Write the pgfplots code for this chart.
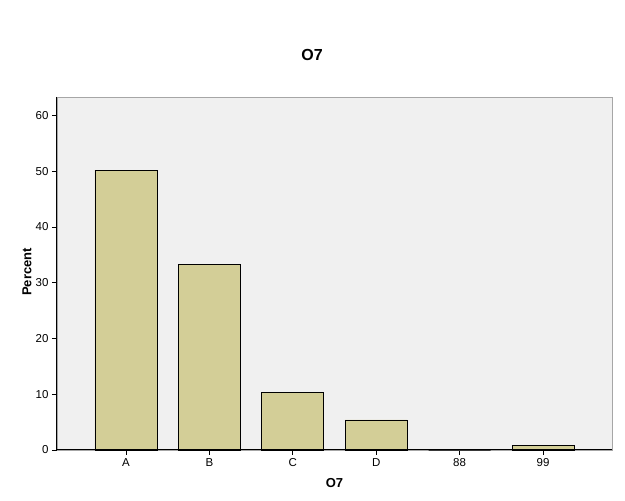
\documentclass[border=0pt]{standalone}
\usepackage{pgfplots}
\pgfplotsset{compat=1.18}
\usepackage{fontspec}
\setmainfont{Liberation Sans}
\definecolor{barfill}{HTML}{D3CE97}
\definecolor{plotbg}{HTML}{F0F0F0}
\begin{document}
\begin{tikzpicture}[x=1pt,y=1pt]
\useasboundingbox (0,0) rectangle (625,501);
\node[font=\fontsize{16}{18}\selectfont\bfseries] at (312,446) {O7};
\node[font=\fontsize{13}{15}\selectfont\bfseries, rotate=90] at (27,229) {Percent};
\node[font=\fontsize{13}{15}\selectfont\bfseries] at (334.5,18) {O7};
\begin{axis}[
  at={(57pt,51pt)}, anchor=south west,
  scale only axis, width=555pt, height=353pt,
  xmin=-0.827, xmax=5.827, ymin=0, ymax=63.3,
  ybar, bar width=62pt, bar shift=0pt,
  axis background/.style={fill=plotbg},
  axis line style={draw=gray!70},
  xtick={0,1,2,3,4,5},
  xticklabels={A,B,C,D,88,99},
  ytick={0,10,20,30,40,50,60},
  tick align=outside, tick pos=left,
  major tick length=5pt,
  tick style={black, line width=0.8pt},
  ticklabel style={font=\fontsize{11.5}{13}\selectfont},
  /pgf/number format/assume math mode=true,
  clip=false,
]
\addplot[fill=barfill, draw=black, line width=0.7pt] coordinates {(0,50.2) (1,33.3) (2,10.4) (3,5.4) (4,0) (5,0.85)};
\draw[black, line width=1pt] (rel axis cs:0,1) -- (rel axis cs:0,0) -- (rel axis cs:1,0);
\end{axis}
\end{tikzpicture}
\end{document}
